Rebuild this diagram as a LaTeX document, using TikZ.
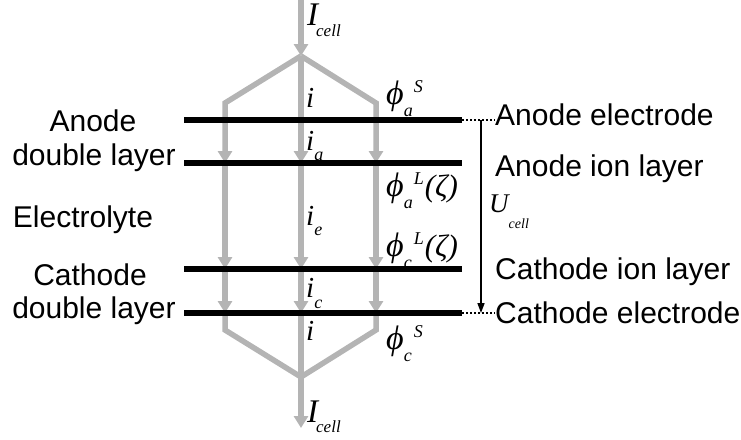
\documentclass[tikz,border=0pt]{standalone}
\usepackage{fontspec}
\setmainfont{Liberation Sans}
\newfontfamily\mf{Liberation Serif}
\usetikzlibrary{arrows.meta}
\definecolor{flow}{RGB}{180,180,180}
\newcommand\mbig[1]{{\mf\itshape\fontsize{31}{31}\selectfont #1}}
\newcommand\mi[1]{{\mf\itshape\fontsize{29}{29}\selectfont #1}}
\newcommand\mhuge[1]{{\mf\itshape\fontsize{33}{33}\selectfont #1}}
\newcommand\msub[1]{{\mf\itshape\fontsize{18}{18}\selectfont #1}}
\newcommand\mcell[1]{{\mf\itshape\fontsize{17}{17}\selectfont #1}}
\newcommand\msmall[1]{{\mf\itshape\fontsize{14}{14}\selectfont #1}}
\newcommand\phisym{{\mf\itshape\fontsize{34}{34}\selectfont ϕ}}
\newcommand\phiSL[3]{\phisym\rlap{\raisebox{-12pt}{\msub{#1}}}\hspace{10pt}\raisebox{12pt}{\msub{#2}}\hspace{1pt}#3}
\begin{document}
\begin{tikzpicture}[x=1pt,y=-1pt,
  txt/.style={inner sep=0pt,font=\fontsize{30}{33}\selectfont},
  mlab/.style={inner sep=0pt,anchor=base west},
  flowline/.style={draw=flow,line width=5.5pt,line join=miter},
  flowarrow/.style={flowline,-{Triangle[width=14pt,length=12pt]}},
  layer/.style={draw=black,line width=6.5pt},
  dotline/.style={draw=black,line width=1.5pt,dash pattern=on 2pt off 2pt},
  volt/.style={draw=black,line width=1.5pt,-{Triangle[width=7pt,length=10pt]}}]
\useasboundingbox (0,0) rectangle (741,439);
% coordinates
\coordinate (top) at (301,0);
\coordinate (apex) at (301,56);
\coordinate (kL) at (225,103);
\coordinate (kR) at (376,103);
\foreach \n/\y in {1/120,2/163,3/269,4/313}{
  \coordinate (L\n) at (225,\y);
  \coordinate (C\n) at (301,\y);
  \coordinate (R\n) at (376,\y);
  \coordinate (W\n) at (184,\y);
  \coordinate (E\n) at (462,\y);
}
\coordinate (bL) at (225,330);
\coordinate (bR) at (376,330);
\coordinate (join) at (301,377);
\coordinate (bot) at (301,428);
% gray current flow
\draw[flowarrow] (top) -- (apex);
\draw[flowarrow] (apex) -- (kL) -- (L2);
\draw[flowarrow] (apex) -- (C2);
\draw[flowarrow] (apex) -- (kR) -- (R2);
\foreach \c in {L,C,R}{
  \draw[flowarrow] (\c2) -- (\c3);
  \draw[flowarrow] (\c3) -- (\c4);
}
\draw[flowline] (L4) -- (bL) -- (join);
\draw[flowline] (R4) -- (bR) -- (join);
\draw[flowarrow] (C4) -- (bot);
% black layers
\foreach \n in {1,2,3,4}{ \draw[layer] (W\n) -- (E\n); }
% right labels
\node[txt,anchor=base west] (ae) at (495,125) {Anode electrode};
\node[txt,anchor=base west] (ai) at (495,176) {Anode ion layer};
\node[txt,anchor=base west] (ci) at (495,279) {Cathode ion layer};
\node[txt,anchor=base west] (ce) at (495,323) {Cathode electrode};
\coordinate (d1) at (ae.west |- E1);
\coordinate (d4) at (ce.west |- E4);
\draw[dotline] (E1) -- (d1);
\draw[dotline] (E4) -- (d4);
\coordinate (u1) at (481,120);
\coordinate (u4) at (481,313);
\draw[volt] (u1) -- (u4);
\node[mlab] (U) at (489,212) {\mi{\fontsize{27}{27}\selectfont U}\raisebox{-16pt}{\msmall{cell}}};
% left labels
\node[txt,anchor=base] (an1) at (93,131) {Anode};
\node[txt,anchor=base] (an2) at (94,165) {double layer};
\node[txt,anchor=base] (el) at (83,227) {Electrolyte};
\node[txt,anchor=base] (ca1) at (90,285) {Cathode};
\node[txt,anchor=base] (ca2) at (94,318) {double layer};
% currents
\node[mlab] (Itop) at (307,25) {\mhuge{I}\hspace{-2pt}\raisebox{-11pt}{\mcell{cell}}};
\node[mlab] (i1) at (306,107) {\mi{i}};
\node[mlab] (ia) at (306,150) {\mi{i}\raisebox{-10pt}{\msub{a}}};
\node[mlab] (ie) at (306,225) {\mi{i}\raisebox{-10pt}{\msub{e}}};
\node[mlab] (ic) at (306,297) {\mi{i}\raisebox{-11pt}{\msub{c}}};
\node[mlab] (i2) at (306,340) {\mi{i}};
\node[mlab] (Ibot) at (307,422) {\mhuge{I}\hspace{-2pt}\raisebox{-10pt}{\mcell{cell}}};
% potentials
\node[mlab] (paS) at (386,104) {\phiSL{a}{S}{}};
\node[mlab] (paL) at (386,196) {\phiSL{a}{L}{\mbig{(ζ)}}};
\node[mlab] (pcL) at (386,256) {\phiSL{c}{L}{\mbig{(ζ)}}};
\node[mlab] (pcS) at (386,349) {\phiSL{c}{S}{}};
\end{tikzpicture}
\end{document}
